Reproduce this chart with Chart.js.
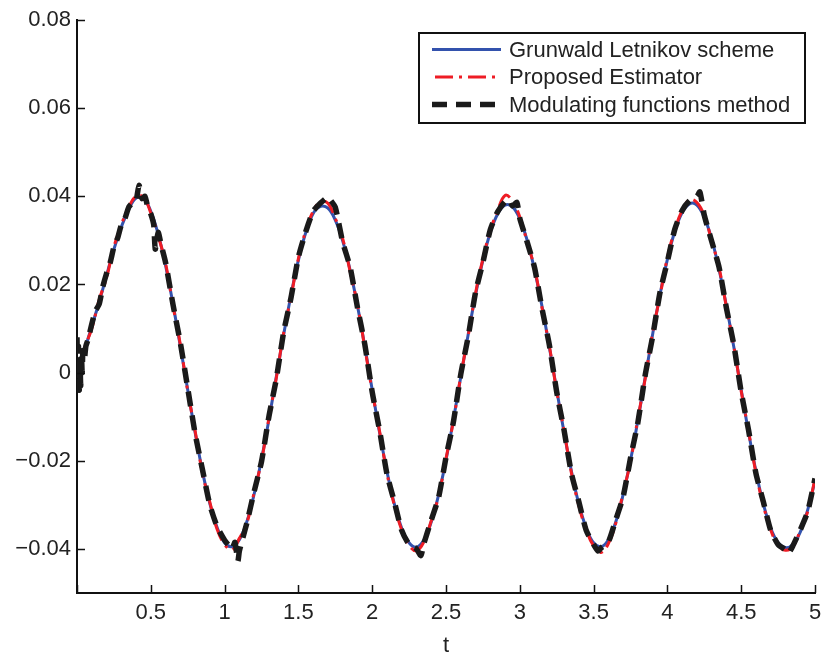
<!DOCTYPE html>
<html>
<head>
<meta charset="utf-8">
<script src="https://cdn.jsdelivr.net/npm/chart.js@4"></script>
<style>
  html, body { margin: 0; padding: 0; background: #fff; }
  #wrap { width: 824px; height: 657px; position: relative; }
</style>
</head>
<body>
<div id="wrap"><canvas id="c" width="824" height="657"></canvas></div>
<script>
// ---------- data ----------
const seriesNames = ["Grunwald Letnikov scheme", "Proposed Estimator", "Modulating functions method"];

const tGrid = [0,0.05,0.1,0.15,0.2,0.25,0.3,0.35,0.4,0.45,0.5,0.55,0.6,0.65,0.7,0.75,0.8,0.85,0.9,0.95,
  1,1.05,1.1,1.15,1.2,1.25,1.3,1.35,1.4,1.45,1.5,1.55,1.6,1.65,1.7,1.75,1.8,1.85,1.9,1.95,
  2,2.05,2.1,2.15,2.2,2.25,2.3,2.35,2.4,2.45,2.5,2.55,2.6,2.65,2.7,2.75,2.8,2.85,2.9,2.95,
  3,3.05,3.1,3.15,3.2,3.25,3.3,3.35,3.4,3.45,3.5,3.55,3.6,3.65,3.7,3.75,3.8,3.85,3.9,3.95,
  4,4.05,4.1,4.15,4.2,4.25,4.3,4.35,4.4,4.45,4.5,4.55,4.6,4.65,4.7,4.75,4.8,4.85,4.9,4.95,5];

const glValues = [0,0.0050,0.0105,0.0160,0.0220,0.0280,0.0330,0.0370,0.0396,0.0396,
  0.0366,0.0314,0.0243,0.0156,0.0060,-0.0039,-0.0135,-0.0224,-0.0297,-0.0352,
  -0.0386,-0.0395,-0.0379,-0.0339,-0.0276,-0.0197,-0.0107,-0.0010,0.0086,0.0176,
  0.0255,0.0318,0.0361,0.0377,0.0373,0.0346,0.0299,0.0233,0.0152,0.0059,
  -0.0039,-0.0136,-0.0224,-0.0298,-0.0353,-0.0386,-0.0396,-0.0380,-0.0339,-0.0277,
  -0.0198,-0.0107,-0.0010,0.0086,0.0176,0.0255,0.0318,0.0360,0.0380,0.0376,
  0.0349,0.0300,0.0233,0.0151,0.0058,-0.0039,-0.0136,-0.0224,-0.0298,-0.0353,
  -0.0386,-0.0395,-0.0379,-0.0339,-0.0277,-0.0199,-0.0108,-0.0010,0.0087,0.0177,
  0.0257,0.0320,0.0363,0.0383,0.0380,0.0352,0.0303,0.0234,0.0151,0.0058,
  -0.0039,-0.0136,-0.0224,-0.0298,-0.0353,-0.0386,-0.0397,-0.0390,-0.0362,-0.0312,-0.0245];

const estValues = [0.0005,0.0055,0.0100,0.0165,0.0215,0.0285,0.0335,0.0375,0.0400,0.0398,
  0.0362,0.0310,0.0248,0.0152,0.0064,-0.0042,-0.0132,-0.0228,-0.0294,-0.0356,
  -0.0390,-0.0402,-0.0376,-0.0342,-0.0272,-0.0200,-0.0104,-0.0013,0.0090,0.0172,
  0.0259,0.0322,0.0366,0.0388,0.0384,0.0350,0.0304,0.0230,0.0155,0.0056,
  -0.0042,-0.0133,-0.0228,-0.0301,-0.0357,-0.0392,-0.0404,-0.0384,-0.0336,-0.0280,
  -0.0195,-0.0110,-0.0007,0.0083,0.0180,0.0258,0.0322,0.0368,0.0402,0.0390,
  0.0353,0.0296,0.0237,0.0148,0.0061,-0.0042,-0.0132,-0.0228,-0.0302,-0.0357,
  -0.0393,-0.0408,-0.0388,-0.0342,-0.0273,-0.0202,-0.0104,-0.0013,0.0091,0.0174,
  0.0261,0.0324,0.0368,0.0392,0.0386,0.0356,0.0299,0.0238,0.0148,0.0061,
  -0.0042,-0.0133,-0.0228,-0.0301,-0.0357,-0.0392,-0.0403,-0.0395,-0.0358,-0.0316,-0.0240];

const tMod = [0,0.005,0.01,0.015,0.02,0.025,0.03,0.035,0.04,0.05,0.06,0.075,0.1,0.125,0.15,0.175,0.2,0.225,0.25,0.275,
  0.3,0.325,0.35,0.375,0.4,0.42,0.44,0.46,0.48,0.5,0.52,0.53,0.55,0.57,0.6,0.65,0.7,0.75,0.8,0.85,0.9,0.95,
  1,1.03,1.05,1.07,1.09,1.1,1.15,1.2,1.25,1.3,1.35,1.4,1.45,1.5,1.55,1.6,1.65,1.7,1.72,1.75,1.8,1.85,1.9,1.95,
  2,2.05,2.1,2.15,2.2,2.25,2.3,2.33,2.35,2.4,2.45,2.5,2.55,2.6,2.65,2.7,2.75,2.8,2.85,2.9,2.93,2.95,2.98,
  3,3.05,3.1,3.15,3.2,3.25,3.3,3.35,3.4,3.45,3.5,3.53,3.55,3.6,3.65,3.7,3.75,3.8,3.85,3.9,3.95,
  4,4.05,4.1,4.15,4.2,4.22,4.25,4.3,4.35,4.4,4.45,4.5,4.55,4.6,4.65,4.7,4.75,4.8,4.82,4.85,4.9,4.95,5];

const modValues = [0.0080,-0.0020,0.0060,-0.0040,0.0030,-0.0030,0.0040,0.0000,0.0050,0.0030,0.0060,0.0075,0.0110,0.0140,0.0155,0.0195,0.0225,0.0250,0.0285,0.0305,
  0.0335,0.0350,0.0375,0.0385,0.0390,0.0425,0.0395,0.0400,0.0375,0.0360,0.0335,0.0280,0.0318,0.0290,0.0250,0.0155,0.0068,-0.0035,-0.0138,-0.0220,-0.0300,-0.0350,
  -0.0380,-0.0393,-0.0400,-0.0385,-0.0428,-0.0405,-0.0342,-0.0270,-0.0202,-0.0100,-0.0015,0.0092,0.0170,0.0262,0.0320,0.0366,0.0385,0.0398,0.0390,0.0375,0.0296,0.0240,0.0148,0.0064,
  -0.0044,-0.0131,-0.0230,-0.0293,-0.0358,-0.0390,-0.0400,-0.0415,-0.0388,-0.0335,-0.0283,-0.0192,-0.0112,-0.0004,0.0081,0.0182,0.0250,0.0324,0.0365,0.0388,0.0392,0.0378,0.0386,
  0.0350,0.0296,0.0238,0.0146,0.0063,-0.0044,-0.0131,-0.0229,-0.0293,-0.0358,-0.0390,-0.0405,-0.0398,-0.0384,-0.0334,-0.0282,-0.0194,-0.0113,-0.0005,0.0082,0.0182,
  0.0252,0.0325,0.0368,0.0390,0.0400,0.0410,0.0357,0.0298,0.0239,0.0146,0.0063,-0.0044,-0.0131,-0.0229,-0.0293,-0.0358,-0.0390,-0.0402,-0.0410,-0.0393,-0.0357,-0.0316,-0.0240];

const xTickValues = [0,0.5,1,1.5,2,2.5,3,3.5,4,4.5,5];
const yTickValues = [-0.04,-0.02,0,0.02,0.04,0.06,0.08];

// ---------- styling ----------
const FONT = '"Liberation Sans", Arial, Helvetica, sans-serif';
const TXT = '#222222';

function pts(xs, ys){ return xs.map((x,i)=>({x:x, y:ys[i]})); }

const inwardTicks = {
  id: 'inwardTicks',
  afterDraw(chart){
    const {ctx, chartArea:a, scales:{x, y}} = chart;
    ctx.save();
    ctx.strokeStyle = '#111';
    ctx.lineWidth = 1.5;
    ctx.beginPath();
    xTickValues.forEach(v => {
      const px = Math.round(x.getPixelForValue(v)) + 0.5;
      ctx.moveTo(px, a.bottom); ctx.lineTo(px, a.bottom - 8);
    });
    yTickValues.forEach(v => {
      const py = Math.round(y.getPixelForValue(v)) + 0.5;
      ctx.moveTo(a.left, py); ctx.lineTo(a.left + 8, py);
    });
    ctx.stroke();
    ctx.restore();
  }
};

const boxLegend = {
  id: 'boxLegend',
  afterDraw(chart){
    const ctx = chart.ctx;
    ctx.save();
    ctx.fillStyle = '#fff';
    ctx.fillRect(419, 33, 386, 90);
    ctx.strokeStyle = '#111';
    ctx.lineWidth = 2;
    ctx.strokeRect(419, 33, 386, 90);
    chart.data.datasets.forEach((ds, i) => {
      const yy = 49.5 + i * 27.5;
      ctx.beginPath();
      ctx.setLineDash(ds.borderDash || []);
      ctx.lineDashOffset = ds.legendDashOffset || 0;
      ctx.strokeStyle = ds.borderColor;
      ctx.lineWidth = ds.borderWidth;
      ctx.moveTo(432, yy); ctx.lineTo(501, yy);
      ctx.stroke();
      ctx.setLineDash([]);
      ctx.fillStyle = TXT;
      ctx.font = '22px ' + FONT;
      ctx.textBaseline = 'middle';
      ctx.textAlign = 'left';
      ctx.fillText(ds.label, 509, yy + 1);
    });
    ctx.restore();
  }
};

new Chart(document.getElementById('c'), {
  type: 'line',
  data: {
    datasets: [
      { label: seriesNames[0], data: pts(tGrid, glValues), borderColor: '#3352ad', borderWidth: 3,
        pointRadius: 0, tension: 0.4, fill: false, order: 3 },
      { label: seriesNames[1], data: pts(tGrid, estValues), borderColor: '#ee1c25', borderWidth: 3,
        borderDash: [18, 6, 3, 6], legendDashOffset: 30, pointRadius: 0, tension: 0.4, fill: false, order: 2 },
      { label: seriesNames[2], data: pts(tMod, modValues), borderColor: '#1a1a1a', borderWidth: 5.5,
        borderDash: [15, 9], pointRadius: 0, tension: 0.2, fill: false, order: 1 }
    ]
  },
  options: {
    responsive: false,
    animation: false,
    layout: { padding: { top: 20, right: 9, left: 0, bottom: 0 } },
    plugins: { legend: { display: false }, tooltip: { enabled: false } },
    scales: {
      x: {
        type: 'linear', min: 0, max: 5,
        afterFit(s){ s.height = 64; s.paddingLeft = 0; s.paddingRight = 0; },
        ticks: {
          stepSize: 0.5, autoSkip: false, maxRotation: 0, padding: 7,
          color: TXT, font: { family: FONT, size: 22 },
          callback: v => (Math.abs(v) < 1e-9 ? '' : String(Math.round(v * 10) / 10))
        },
        grid: { display: true, drawOnChartArea: false, drawTicks: false },
        border: { display: true, color: '#111', width: 2 },
        title: { display: true, text: 't', color: TXT, font: { family: FONT, size: 22 }, padding: { top: 0, bottom: -2 } }
      },
      y: {
        type: 'linear', min: -0.05, max: 0.08,
        afterFit(s){ s.width = 77; s.paddingTop = 0; s.paddingBottom = 0; },
        ticks: {
          stepSize: 0.02, includeBounds: false, padding: 6,
          color: TXT, font: { family: FONT, size: 22 },
          callback: v => (Math.abs(v) < 1e-9 ? '0' : v.toFixed(2).replace('-', '\u2212'))
        },
        grid: { display: true, drawOnChartArea: false, drawTicks: false },
        border: { display: true, color: '#111', width: 2 }
      }
    }
  },
  plugins: [inwardTicks, boxLegend]
});
</script>
</body>
</html>
